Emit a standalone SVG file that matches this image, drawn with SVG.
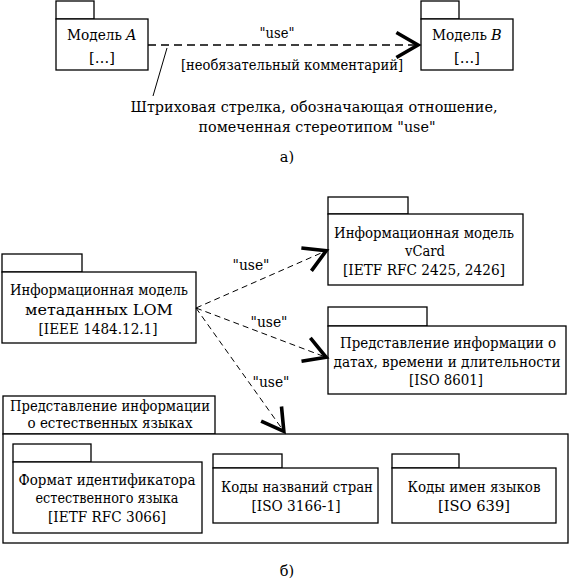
<svg xmlns="http://www.w3.org/2000/svg" width="573" height="584" viewBox="0 0 573 584">
<style>
.box{fill:#fff;stroke:#000;stroke-width:1.3}
.t{font-family:'DejaVu Serif','Liberation Serif',serif;font-size:14.5px;fill:#000;text-anchor:middle}
.s{text-anchor:start}
.i{font-style:italic;text-anchor:start}
.dash{fill:none;stroke:#000;stroke-width:1;stroke-dasharray:6 4}
.dtop{fill:none;stroke:#000;stroke-width:1.3;stroke-dasharray:8 5}
.thin{fill:none;stroke:#000;stroke-width:1}
</style>
<defs>
<marker id="open" markerUnits="userSpaceOnUse" markerWidth="40" markerHeight="40" refX="0" refY="0" viewBox="-30 -20 40 40" orient="auto" overflow="visible">
<path d="M-23.6,-12.5 L-2,0 L-23.6,12.5" fill="none" stroke="#000" stroke-width="3.6"/>
</marker>
</defs>
<rect width="573" height="584" fill="#fff"/>

<g id="modelA">
<rect class="box" x="56" y="1" width="38" height="18"/>
<rect class="box" x="56" y="19" width="92" height="51"/>
<text class="t s" x="67" y="40" textLength="55" lengthAdjust="spacingAndGlyphs">Модель</text>
<text class="t i" x="126" y="40">A</text>
<text class="t" x="102" y="63">[…]</text>
</g>
<g id="modelB">
<rect class="box" x="421" y="1" width="38" height="18"/>
<rect class="box" x="421" y="19" width="92" height="51"/>
<text class="t s" x="432" y="40" textLength="55" lengthAdjust="spacingAndGlyphs">Модель</text>
<text class="t i" x="491" y="40">B</text>
<text class="t" x="467" y="63">[…]</text>
</g>

<g id="lom">
<rect class="box" x="2" y="254" width="80" height="18"/>
<rect class="box" x="2" y="272" width="194" height="71"/>
<text class="t" x="99" y="295" textLength="178" lengthAdjust="spacingAndGlyphs">Информационная модель</text>
<text class="t" x="99" y="315" textLength="148" lengthAdjust="spacingAndGlyphs">метаданных LOM</text>
<text class="t" x="98" y="334" textLength="119" lengthAdjust="spacingAndGlyphs">[IEEE 1484.12.1]</text>
</g>
<g id="vcard">
<rect class="box" x="328" y="197" width="80" height="17"/>
<rect class="box" x="328" y="214" width="195" height="71"/>
<text class="t" x="424" y="238" textLength="180" lengthAdjust="spacingAndGlyphs">Информационная модель</text>
<text class="t" x="425" y="256" textLength="40" lengthAdjust="spacingAndGlyphs">vCard</text>
<text class="t" x="424" y="275" textLength="162" lengthAdjust="spacingAndGlyphs">[IETF RFC 2425, 2426]</text>
</g>
<g id="dates">
<rect class="box" x="328" y="307" width="99" height="19"/>
<rect class="box" x="328" y="326" width="238" height="68"/>
<text class="t" x="448" y="348" textLength="216" lengthAdjust="spacingAndGlyphs">Представление информации о</text>
<text class="t" x="447" y="367" textLength="227" lengthAdjust="spacingAndGlyphs" style="font-size:14px">датах, времени и длительности</text>
<text class="t" x="446" y="385" textLength="74" lengthAdjust="spacingAndGlyphs">[ISO 8601]</text>
</g>
<g id="languages">
<rect class="box" x="3" y="396" width="212" height="38"/>
<rect class="box" x="3" y="434" width="565" height="109"/>
<text class="t" x="110" y="411" textLength="200" lengthAdjust="spacingAndGlyphs">Представление информации</text>
<text class="t" x="110" y="428" textLength="165" lengthAdjust="spacingAndGlyphs">о естественных языках</text>
</g>
<g id="langtag">
<rect class="box" x="13" y="444" width="78" height="18"/>
<rect class="box" x="13" y="462" width="189" height="71"/>
<text class="t" x="107" y="485" textLength="177" lengthAdjust="spacingAndGlyphs">Формат идентификатора</text>
<text class="t" x="107" y="503" textLength="143" lengthAdjust="spacingAndGlyphs">естественного языка</text>
<text class="t" x="107" y="522" textLength="118" lengthAdjust="spacingAndGlyphs">[IETF RFC 3066]</text>
</g>
<g id="countries">
<rect class="box" x="213" y="454" width="69" height="14"/>
<rect class="box" x="213" y="468" width="165" height="55"/>
<text class="t" x="297" y="492" textLength="152" lengthAdjust="spacingAndGlyphs">Коды названий стран</text>
<text class="t" x="296" y="511" textLength="89" lengthAdjust="spacingAndGlyphs">[ISO 3166-1]</text>
</g>
<g id="langcodes">
<rect class="box" x="392" y="454" width="67" height="14"/>
<rect class="box" x="392" y="468" width="164" height="55"/>
<text class="t" x="474" y="492" textLength="133" lengthAdjust="spacingAndGlyphs">Коды имен языков</text>
<text class="t" x="474" y="511" textLength="72" lengthAdjust="spacingAndGlyphs">[ISO 639]</text>
</g>

<g id="connectors">
<line class="dtop" x1="148" y1="45" x2="420" y2="45" marker-end="url(#open)"/>
<line class="thin" x1="167" y1="48" x2="153" y2="96"/>
<line class="dash" x1="196" y1="308" x2="328" y2="250" marker-end="url(#open)"/>
<line class="dash" x1="196" y1="308" x2="328" y2="358" marker-end="url(#open)"/>
<line class="dash" x1="196" y1="308" x2="285" y2="433" marker-end="url(#open)"/>
</g>

<g id="labels">
<text class="t" x="277" y="38" textLength="35" lengthAdjust="spacingAndGlyphs">"use"</text>
<text class="t" x="292" y="70" textLength="222" lengthAdjust="spacingAndGlyphs">[необязательный комментарий]</text>
<text class="t" x="314" y="112" textLength="367" lengthAdjust="spacingAndGlyphs">Штриховая стрелка, обозначающая отношение,</text>
<text class="t" x="317" y="132" textLength="237" lengthAdjust="spacingAndGlyphs">помеченная стереотипом "use"</text>
<text class="t" x="287" y="162">а)</text>
<text class="t" x="251" y="270" textLength="37" lengthAdjust="spacingAndGlyphs">"use"</text>
<text class="t" x="269" y="327" textLength="37" lengthAdjust="spacingAndGlyphs">"use"</text>
<text class="t" x="271" y="387" textLength="37" lengthAdjust="spacingAndGlyphs">"use"</text>
<text class="t" x="287" y="576">б)</text>
</g>
</svg>
